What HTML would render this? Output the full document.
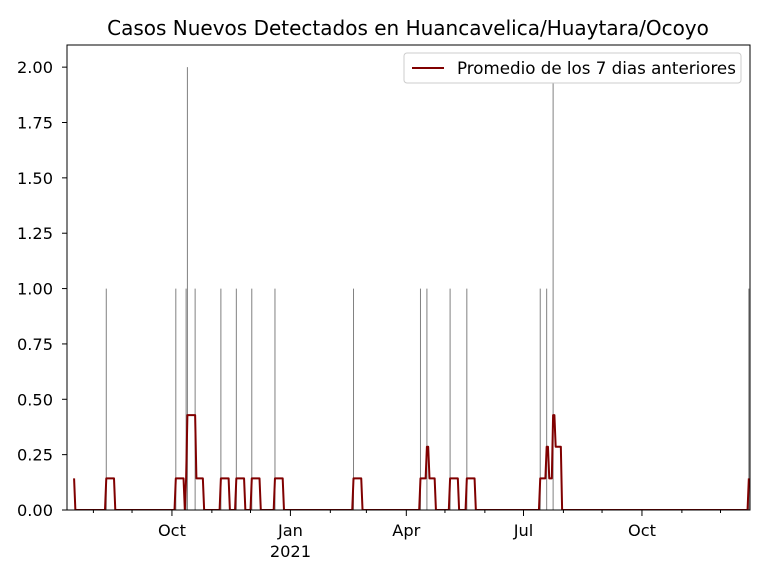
<!DOCTYPE html>
<html><head><meta charset="utf-8"><style>
body{margin:0;background:#fff}
svg text{font-family:"DejaVu Sans","Liberation Sans",sans-serif;fill:#000}
</style></head><body>
<svg id="chart" width="768" height="576" xmlns="http://www.w3.org/2000/svg">
<text x="408" y="35" font-size="20" text-anchor="middle">Casos Nuevos Detectados en Huancavelica/Huaytara/Ocoyo</text>
<g id="plot"></g>
<rect x="67" y="45" width="683" height="465" fill="none" stroke="#000" stroke-width="1"/>
<g>
<rect x="404" y="53" width="337" height="30" fill="#fff" stroke="#ccc" rx="3"/>
<line x1="412" y1="68" x2="444" y2="68" stroke="#800000" stroke-width="2"/>
<text x="457" y="74" font-size="16.7">Promedio de los 7 dias anteriores</text>
</g>
</svg>
<script>
// days relative to 2020-10-01
const caseDays = [-82, -51, 3, 11, 12, 18, 38, 50, 62, 80, 141, 193, 198, 216, 229, 286, 291, 296, 448];
const caseCounts = [1, 1, 1, 1, 2, 1, 1, 1, 1, 1, 1, 1, 1, 1, 1, 1, 1, 2, 1];
const yTicks = [0, 0.25, 0.5, 0.75, 1.0, 1.25, 1.5, 1.75, 2.0];
const xMajorDays = [0, 92, 182, 273, 365];
const xMajorLabels = ["Oct", "Jan", "Apr", "Jul", "Oct"];
const xMinorDays = [-61, -31, 31, 61, 123, 151, 212, 243, 304, 334, 396, 426];
const startDay = -76, endDay = 448;

const NS = "http://www.w3.org/2000/svg";
const X0 = 67, X1 = 750, Y0 = 510, Y1 = 45;
const dMin = -81.5, dMax = 448.9, yMax = 2.1;
const xs = d => X0 + (d - dMin) / (dMax - dMin) * (X1 - X0);
const ys = v => Y0 - v / yMax * (Y0 - Y1);
const plot = document.getElementById('plot');
const svg = document.getElementById('chart');
function mk(tag, attrs, parent) {
  const e = document.createElementNS(NS, tag);
  for (const k in attrs) e.setAttribute(k, attrs[k]);
  (parent || plot).appendChild(e);
  return e;
}
const clip = mk('clipPath', {id: 'c'}, svg);
mk('rect', {x: X0, y: Y1, width: X1 - X0 + 1, height: Y0 - Y1}, clip);
plot.setAttribute('clip-path', 'url(#c)');

caseDays.forEach((d, i) => {
  const l = mk('line', {x1: xs(d), x2: xs(d), y1: ys(0), y2: ys(caseCounts[i]), stroke: '#808080', 'stroke-width': 1});
  
  
});
const daily = {};
caseDays.forEach((d, i) => daily[d] = (daily[d] || 0) + caseCounts[i]);
let pts = [];
for (let d = startDay; d <= endDay; d++) {
  let s = 0;
  for (let k = 0; k < 7; k++) s += daily[d - k] || 0;
  pts.push(xs(d).toFixed(2) + ',' + ys(s / 7).toFixed(2));
}
const pl = mk('polyline', {points: pts.join(' '), fill: 'none', stroke: '#800000', 'stroke-width': 2, 'stroke-linejoin': 'round'});



const ax = mk('g', {}, svg);
yTicks.forEach(v => {
  const y = ys(v);
  mk('line', {x1: X0 - 5, x2: X0, y1: y, y2: y, stroke: '#000'}, ax);
  const t = mk('text', {x: X0 - 14, y: y + 6, 'font-size': 16.2, 'text-anchor': 'end'}, ax);
  t.textContent = v.toFixed(2);
  
  
});
xMajorDays.forEach((d, i) => {
  const x = xs(d);
  mk('line', {x1: x, x2: x, y1: Y0, y2: Y0 + 6, stroke: '#000'}, ax);
  const t = mk('text', {x: x, y: Y0 + 26, 'font-size': 16.2, 'text-anchor': 'middle'}, ax);
  t.textContent = xMajorLabels[i];
  
  
});
const yr = mk('text', {x: xs(92), y: Y0 + 47, 'font-size': 16.2, 'text-anchor': 'middle'}, ax);
yr.textContent = '2021';


xMinorDays.forEach(d => {
  const x = xs(d);
  mk('line', {x1: x, x2: x, y1: Y0, y2: Y0 + 3, stroke: '#000'}, ax);
});
</script>
</body></html>
